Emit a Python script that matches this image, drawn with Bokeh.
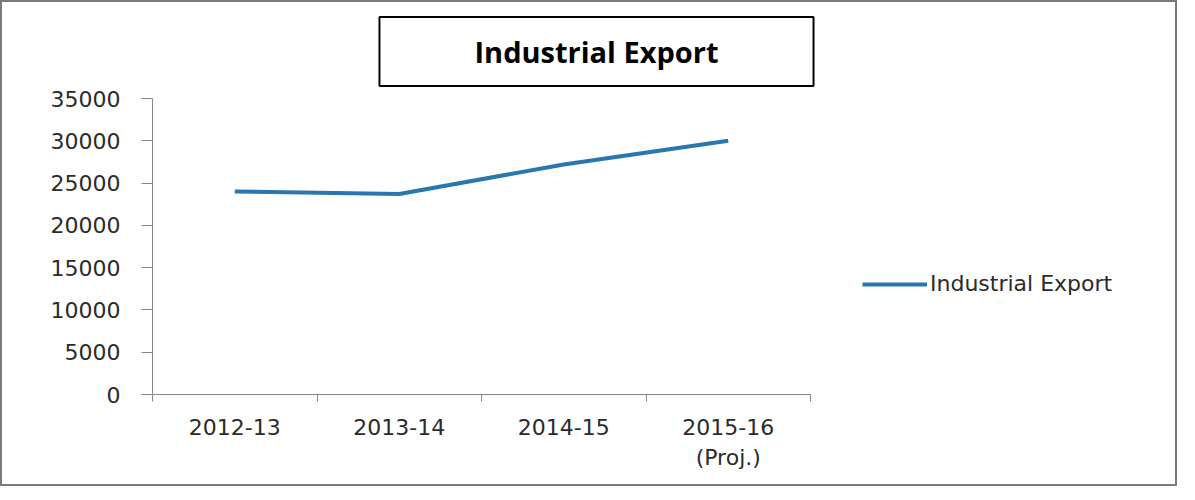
from bokeh.plotting import figure
from bokeh.models import (Range1d, FixedTicker, Label, Legend, LegendItem)
from bokeh.embed import file_html
from bokeh.resources import INLINE

# ---- data ----
categories = ["2012-13", "2013-14", "2014-15", "2015-16\n(Proj.)"]
industrial_export = [24000, 23700, 27200, 30000]
y_ticks = [0, 5000, 10000, 15000, 20000, 25000, 30000, 35000]
y_max = 35000
title_text = "Industrial Export"
series_name = "Industrial Export"

FONT = "DejaVu Sans"
TITLE_FONT = "Open Sans"
AXIS_COLOR = "#868686"
TEXT_COLOR = "#2b2b2b"
LINE_COLOR = "#2877ad"

# ---- layout geometry (pixels) ----
W, H = 1177, 486
ML, MB, MT, MR = 150, 94, 2, 2
PLOT_W, PLOT_H = 658, 296          # visible axis lengths
frame_w = W - ML - MR
frame_h = H - MB - MT
n = len(categories)

x_pos = [i + 0.5 for i in range(n)]

p = figure(width=W, height=H, output_backend="svg", toolbar_location=None,
           x_range=Range1d(0, n * frame_w / PLOT_W),
           y_range=Range1d(0, y_max * frame_h / PLOT_H),
           min_border_left=ML, min_border_right=MR,
           min_border_top=MT, min_border_bottom=MB)
p.styles = {"border": "2px solid #7a7a7a"}
p.outline_line_color = None
p.background_fill_color = "white"
p.border_fill_color = "white"
p.xgrid.visible = False
p.ygrid.visible = False

r = p.line(x_pos, industrial_export, line_color=LINE_COLOR, line_width=4)

# y axis
ya = p.yaxis[0]
ya.bounds = (0, y_max)
ya.ticker = FixedTicker(ticks=y_ticks)
ya.axis_line_color = AXIS_COLOR
ya.major_tick_line_color = AXIS_COLOR
ya.major_tick_out = 11
ya.major_tick_in = 0
ya.minor_tick_line_color = None
ya.major_label_standoff = 21
ya.major_label_text_font = FONT
ya.major_label_text_font_size = "22px"
ya.major_label_text_color = TEXT_COLOR

# x axis: labels at category centres, ticks at boundaries
xa = p.xaxis[0]
xa.bounds = (0, n)
xa.ticker = FixedTicker(ticks=x_pos, minor_ticks=list(range(n + 1)))
xa.major_label_overrides = {v: c for v, c in zip(x_pos, categories)}
xa.axis_line_color = AXIS_COLOR
xa.major_tick_line_color = None
xa.major_tick_out = 0
xa.major_tick_in = 0
xa.minor_tick_line_color = AXIS_COLOR
xa.minor_tick_out = 7
xa.minor_tick_in = 0
xa.major_label_standoff = 13
xa.major_label_text_font = FONT
xa.major_label_text_font_size = "22px"
xa.major_label_text_color = TEXT_COLOR

# title box (screen units relative to the plot frame)
title = Label(x=444, y=343, x_units="screen", y_units="screen", text=title_text,
              text_align="center", text_baseline="middle",
              text_font=TITLE_FONT, text_font_style="bold", text_font_size="29px",
              text_color="black",
              border_line_color="black", border_line_width=2,
              background_fill_color="white",
              padding=dict(left=95, right=95, top=15, bottom=15))
p.add_layout(title)

legend = Legend(items=[LegendItem(label=series_name, renderers=[r])],
                location=(710, 98), glyph_width=65, glyph_height=22,
                label_text_font=FONT, label_text_font_size="22px",
                label_text_color=TEXT_COLOR, label_standoff=3,
                border_line_color=None, background_fill_alpha=0,
                padding=0, margin=0)
p.add_layout(legend, "center")

open("out.html", "w").write(file_html(p, INLINE))
